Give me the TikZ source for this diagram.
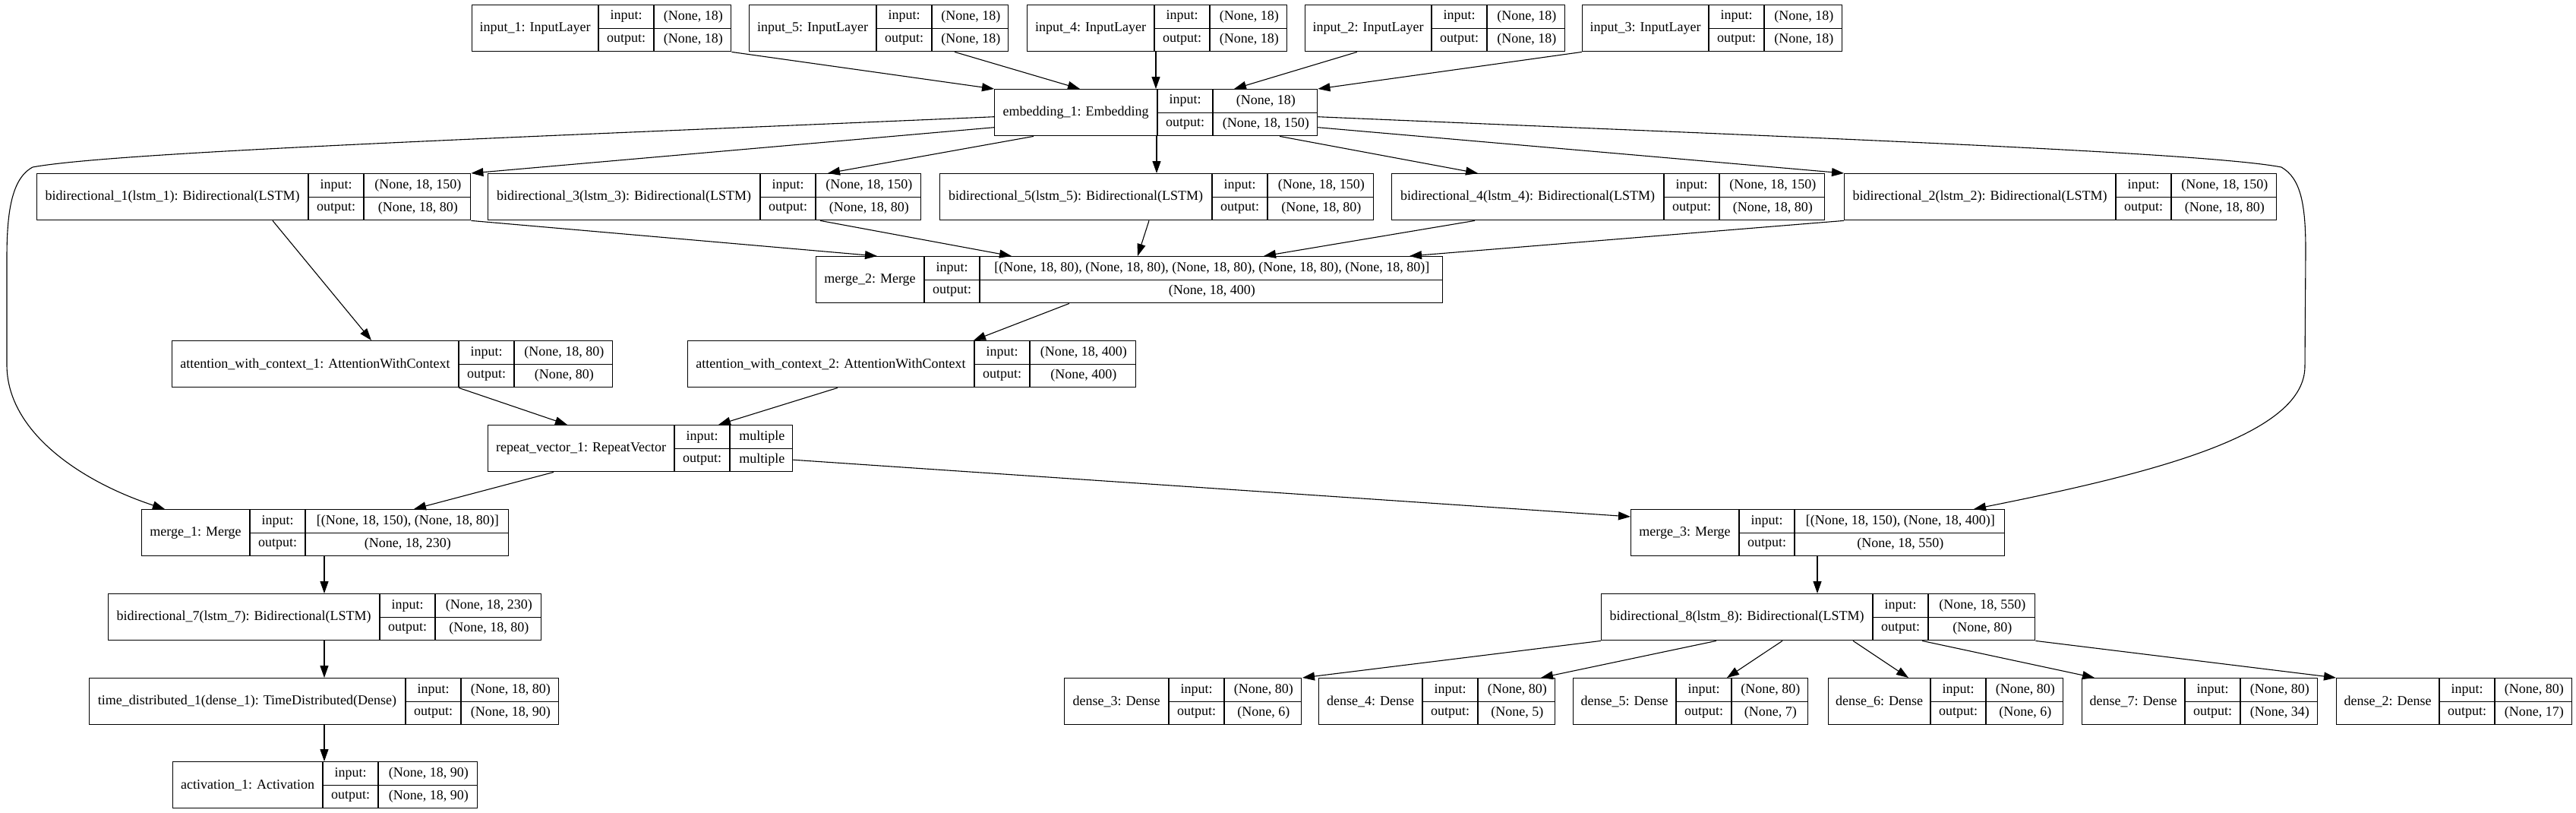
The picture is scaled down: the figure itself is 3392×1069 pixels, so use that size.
\documentclass[tikz,border=0pt]{standalone}
\usepackage{fontspec}
\setmainfont{Liberation Serif}
\usetikzlibrary{arrows.meta}

\tikzset{
  layerbox/.style={draw, line width=1.4pt, minimum height=61pt, inner sep=0pt, anchor=north west},
  cell/.style={inner sep=0pt, font=\fontsize{18}{20}\selectfont},
  edge/.style={-{Triangle[length=16pt,width=11pt]}, line width=1.1pt}
}

% #1 name, #2 x, #3 y, #4 label width, #5 value width, #6 label, #7 input, #8 output
\newcommand{\kerasbox}[8]{%
  \node[layerbox, minimum width=#4+73+#5] (#1) at (#2,#3) {};
  \draw[line width=1.1pt] ([xshift=#4]#1.north west) -- ([xshift=#4]#1.south west)
    ([xshift=#4+73]#1.north west) -- ([xshift=#4+73]#1.south west)
    ([xshift=#4]#1.west) -- (#1.east);
  \node[cell] (#1-l) at ([xshift=#4/2]#1.west) {#6};
  \node[cell] (#1-i) at ([xshift=#4+36.5, yshift=15.25]#1.west) {input:};
  \node[cell] (#1-o) at ([xshift=#4+36.5, yshift=-15.25]#1.west) {output:};
  \node[cell] (#1-iv) at ([xshift=-#5/2, yshift=15.25]#1.east) {#7};
  \node[cell] (#1-ov) at ([xshift=-#5/2, yshift=-15.25]#1.east) {#8};
}

\begin{document}
\begin{tikzpicture}[x=1pt,y=-1pt]
\useasboundingbox (0,0) rectangle (3392,1069);
% layers
\kerasbox{in1}{621}{6}{167}{101}{input\_1: InputLayer}{(None, 18)}{(None, 18)}
\kerasbox{in5}{986}{6}{168}{100}{input\_5: InputLayer}{(None, 18)}{(None, 18)}
\kerasbox{in4}{1352}{6}{168}{101}{input\_4: InputLayer}{(None, 18)}{(None, 18)}
\kerasbox{in2}{1718}{6}{167}{102}{input\_2: InputLayer}{(None, 18)}{(None, 18)}
\kerasbox{in3}{2083}{6}{167}{102}{input\_3: InputLayer}{(None, 18)}{(None, 18)}
\kerasbox{emb}{1309}{117}{215}{137}{embedding\_1: Embedding}{(None, 18)}{(None, 18, 150)}
\kerasbox{bi1}{48}{228}{358}{140}{bidirectional\_1(lstm\_1): Bidirectional(LSTM)}{(None, 18, 150)}{(None, 18, 80)}
\kerasbox{bi3}{642}{228}{359}{138}{bidirectional\_3(lstm\_3): Bidirectional(LSTM)}{(None, 18, 150)}{(None, 18, 80)}
\kerasbox{bi5}{1237}{228}{359}{139}{bidirectional\_5(lstm\_5): Bidirectional(LSTM)}{(None, 18, 150)}{(None, 18, 80)}
\kerasbox{bi4}{1832}{228}{359}{138}{bidirectional\_4(lstm\_4): Bidirectional(LSTM)}{(None, 18, 150)}{(None, 18, 80)}
\kerasbox{bi2}{2428}{228}{358}{138}{bidirectional\_2(lstm\_2): Bidirectional(LSTM)}{(None, 18, 150)}{(None, 18, 80)}
\kerasbox{mg2}{1074}{337}{143}{609}{merge\_2: Merge}{[(None, 18, 80), (None, 18, 80), (None, 18, 80), (None, 18, 80), (None, 18, 80)]}{(None, 18, 400)}
\kerasbox{att1}{226}{448}{378}{129}{attention\_with\_context\_1: AttentionWithContext}{(None, 18, 80)}{(None, 80)}
\kerasbox{att2}{905}{448}{378}{139}{attention\_with\_context\_2: AttentionWithContext}{(None, 18, 400)}{(None, 400)}
\kerasbox{rep}{642}{559}{246}{82}{repeat\_vector\_1: RepeatVector}{multiple}{multiple}
\kerasbox{mg1}{186}{670}{143}{267}{merge\_1: Merge}{[(None, 18, 150), (None, 18, 80)]}{(None, 18, 230)}
\kerasbox{mg3}{2147}{670}{143}{276}{merge\_3: Merge}{[(None, 18, 150), (None, 18, 400)]}{(None, 18, 550)}
\kerasbox{bi7}{142}{781}{358}{139}{bidirectional\_7(lstm\_7): Bidirectional(LSTM)}{(None, 18, 230)}{(None, 18, 80)}
\kerasbox{bi8}{2108}{781}{358}{140}{bidirectional\_8(lstm\_8): Bidirectional(LSTM)}{(None, 18, 550)}{(None, 80)}
\kerasbox{td1}{117}{892}{417}{128}{time\_distributed\_1(dense\_1): TimeDistributed(Dense)}{(None, 18, 80)}{(None, 18, 90)}
\kerasbox{act1}{227}{1002}{198}{130}{activation\_1: Activation}{(None, 18, 90)}{(None, 18, 90)}
\kerasbox{d3}{1401}{892}{138}{101}{dense\_3: Dense}{(None, 80)}{(None, 6)}
\kerasbox{d4}{1736}{892}{137}{101}{dense\_4: Dense}{(None, 80)}{(None, 5)}
\kerasbox{d5}{2071}{892}{136}{100}{dense\_5: Dense}{(None, 80)}{(None, 7)}
\kerasbox{d6}{2407}{892}{135}{101}{dense\_6: Dense}{(None, 80)}{(None, 6)}
\kerasbox{d7}{2741}{892}{136}{101}{dense\_7: Dense}{(None, 80)}{(None, 34)}
\kerasbox{d2}{3076}{892}{136}{101}{dense\_2: Dense}{(None, 80)}{(None, 17)}
% inputs into embedding
\draw[edge] (in1.south east) -- (emb.north west);
\draw[edge] ([xshift=271]in5.south west) -- ([xshift=113]emb.north west);
\draw[edge] ([xshift=170]in4.south west) -- ([xshift=213]emb.north west);
\draw[edge] ([xshift=69]in2.south west) -- ([xshift=316]emb.north west);
\draw[edge] (in3.south west) -- (emb.north east);
% embedding out
\draw[edge] ([yshift=-5.5]emb.west) .. controls (700,180) and (150,200) .. (43,220)
  .. controls (15,235) and (9,280) .. (9,340) -- (9,480)
  .. controls (9,570) and (110,635) .. ([xshift=31]mg1.north west);
\draw[edge] ([yshift=-19.5]emb.west) -- (bi1.north east);
\draw[edge] ([xshift=52]emb.south west) -- ([xshift=448]bi3.north west);
\draw[edge] ([xshift=214]emb.south west) -- ([xshift=286]bi5.north west);
\draw[edge] ([xshift=376]emb.south west) -- ([xshift=114]bi4.north west);
\draw[edge] ([yshift=-19.5]emb.east) -- (bi2.north west);
\draw[edge] ([yshift=-5.5]emb.east) .. controls (2350,180) and (2900,200) .. (3004,220)
  .. controls (3030,235) and (3036,270) .. (3036,330) -- (3035,482)
  .. controls (3035,570) and (2850,620) .. ([xshift=452]mg3.north west);
% into merge_2
\draw[edge] (bi1.south east) -- ([xshift=81]mg2.north west);
\draw[edge] ([xshift=438]bi3.south west) -- ([xshift=258]mg2.north west);
\draw[edge] ([xshift=276]bi5.south west) -- ([xshift=424]mg2.north west);
\draw[edge] ([xshift=110]bi4.south west) -- ([xshift=590]mg2.north west);
\draw[edge] (bi2.south west) -- ([xshift=782]mg2.north west);
% attention and repeat
\draw[edge] ([xshift=311]bi1.south west) -- ([xshift=263]att1.north west);
\draw[edge] ([xshift=334]mg2.south west) -- ([xshift=377]att2.north west);
\draw[edge] ([xshift=378]att1.south west) -- ([xshift=105]rep.north west);
\draw[edge] ([xshift=198]att2.south west) -- ([xshift=304]rep.north west);
\draw[edge] ([xshift=87]rep.south west) -- ([xshift=359]mg1.north west);
\draw[edge] ([yshift=-15]rep.east) -- ([yshift=-10]mg3.north west);
% left branch
\draw[edge] ([xshift=241]mg1.south west) -- ([xshift=285]bi7.north west);
\draw[edge] ([xshift=285]bi7.south west) -- ([xshift=310]td1.north west);
\draw[edge] ([xshift=310]td1.south west) -- ([xshift=200]act1.north west);
% right branch
\draw[edge] ([xshift=246]mg3.south west) -- ([xshift=285]bi8.north west);
\draw[edge] (bi8.south west) -- ([xshift=314]d3.north west);
\draw[edge] ([xshift=152]bi8.south west) -- ([xshift=293]d4.north west);
\draw[edge] ([xshift=239]bi8.south west) -- ([xshift=203]d5.north west);
\draw[edge] ([xshift=332]bi8.south west) -- ([xshift=106]d6.north west);
\draw[edge] ([xshift=423]bi8.south west) -- ([xshift=17]d7.north west);
\draw[edge] (bi8.south east) -- (d2.north west);
\end{tikzpicture}
\end{document}
